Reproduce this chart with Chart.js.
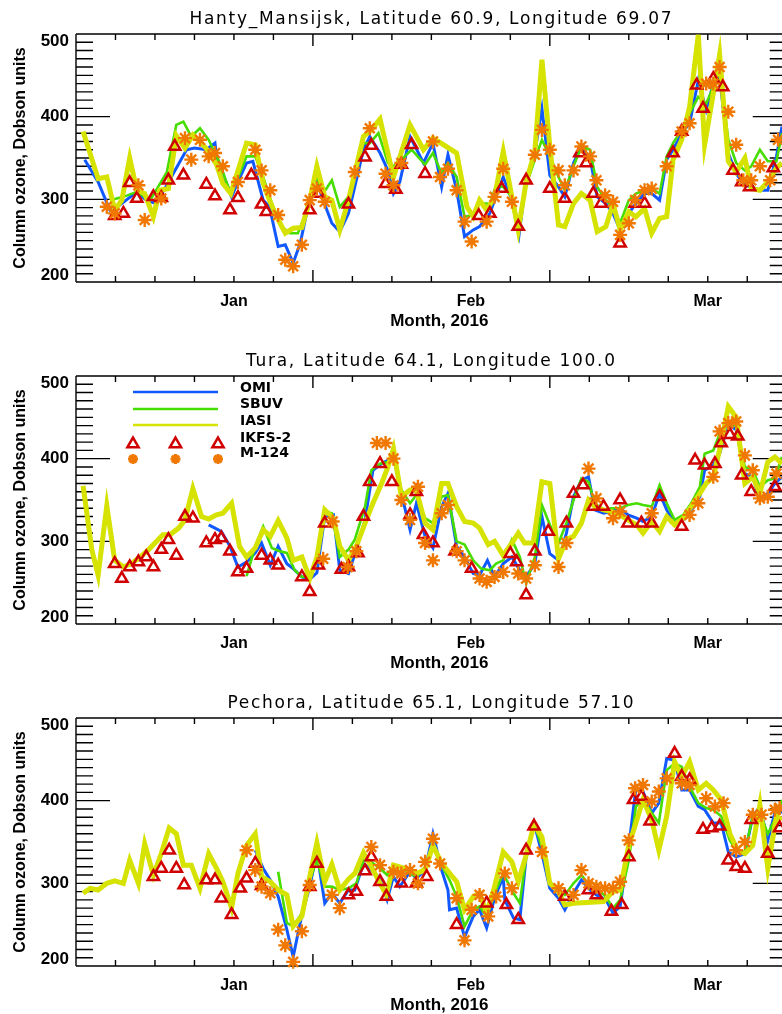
<!DOCTYPE html>
<html lang="en">
<head>
    <meta charset="UTF-8">
    <script src="https://cdn.jsdelivr.net/npm/chart.js"></script>
    <style>
        body{ margin:0; background:#fff; }
        .panel{ position:absolute; left:0; width:782px; height:330px; }
    </style>
    <title>Column ozone 2016</title>
</head>
<body>
    <div class="panel" style="top:0px"><canvas id="c1" width="782" height="330"></canvas></div>
    <div class="panel" style="top:342px"><canvas id="c2" width="782" height="330"></canvas></div>
    <div class="panel" style="top:684px"><canvas id="c3" width="782" height="330"></canvas></div>

    <script>
        // x = day index on the plot (ticks every 5, months 30 apart), y = Dobson units
        const monthLabels = ['Jan', 'Feb', 'Mar'];
        const monthPos = [20, 50, 80];
        const yTickLabels = [200, 300, 400, 500];

        // ---- Hanty_Mansijsk ----
        const hmOmiX = [1.1,2.8,4.3,5,7.7,8.9,10.1,11.5,12.3,14,15,16.5,17.6,17.8,18.6,19.7,20.5,21.6,22.4,23.7,24.5,25.6,26.5,27.5,28.4,29.2,30.3,31.3,32.4,33.4,34.5,35.3,36.4,37.2,38.5,39.5,40.2,41,42.3,44,45.2,46.3,47.1,48.2,49.2,50.3,51.1,52.4,54.1,55.2,56.1,57,58.1,59,60,61.1,61.9,63,64,65.1,66,67.1,68,68.9,70,70.9,72,72.9,73.9,74.8,75.6,76.7,77.7,78.8,79.8,80.7,81.5,82.6,83.6,84.7,85.5,86.6,87.6,88.7,89.4];
        const hmOmiY = [348,321,287,289,309,299,295,317,331,360,362,360,368,352,331,303,321,344,346,299,291,243,245,223,247,283,327,299,271,261,283,315,360,376,356,335,307,321,376,344,368,315,354,311,255,263,267,283,327,299,257,323,356,410,329,315,303,344,364,350,303,295,283,263,283,295,307,307,299,348,360,380,392,444,408,440,448,356,331,317,315,311,311,352,388];
        const hmSbuvX = [4.3,6,7.7,9.4,11.5,12.7,13.6,14.6,15.7,16.8,18.2,19.5,20.3,21.6,22.7,23.7,24.8,26,27.1,28.1,29.4,30.3,31.3,32.4,33.4,34.5,36.4,37.2,38.3,39.5,40.2,41.2,42.5,44.2,45.2,46.3,47.1,48.2,49.2,50.3,51.1,52.4,53.2,54.1,55.2,56.1,57,58.1,59,60,61.1,61.9,63,64,65.1,66,67.1,68,68.9,70,70.9,72,72.9,73.9,74.8,75.6,76.7,77.7,78.8,79.8,80.7,81.5,82.6,83.6,84.7,85.5,86.6,87.6,88.7,89.4];
        const hmSbuvY = [299,303,309,299,333,390,394,376,386,372,344,309,321,352,352,327,295,267,259,259,291,331,307,323,291,303,368,368,380,344,340,348,360,342,356,331,344,327,279,281,295,295,317,315,303,267,317,348,372,352,327,311,340,364,360,315,299,291,271,299,307,311,313,307,352,368,384,404,424,416,436,456,372,344,335,340,360,346,346,380];
        const hmIasiX = [0.9,2.8,3.9,4.9,5.8,6.8,7.7,8.7,9.8,10.6,11.7,12.7,13.8,14.8,15.9,16.8,17.8,18.6,19.6,21.6,22.7,23.7,24.5,25.4,26.5,27.5,28.6,29.6,30.5,31.5,32.4,33.4,34.5,36.4,37.4,38.5,40.2,42.3,44,45.2,48.2,49.5,50.3,51.1,52,53,54.1,55.2,56,57,58.1,59,60,61.1,61.9,63,64,65.1,66,67.1,68,68.9,70,70.9,72,72.9,73.9,74.8,75.6,76.7,77.7,78.8,79.6,80.7,81.5,82.6,83.6,84.7,85.5,86.6,87.6,88.7,89.4];
        const hmIasiY = [382,325,327,287,299,350,311,307,279,311,313,377,362,378,368,358,342,319,307,368,366,320,299,279,259,265,266,299,340,303,299,263,299,376,384,397,327,390,360,374,356,291,279,299,287,303,358,303,263,321,358,469,364,269,267,295,307,299,261,267,295,263,285,279,289,259,277,279,348,372,412,499,366,428,475,346,333,350,313,311,321,338,344];
        const hmIkfsX = [4.9,6,6.8,7.7,9.8,10.8,11.7,12.5,13.6,16.5,17.6,19.5,20.5,22.2,23.5,24.1,29.6,30.7,34.5,36.6,37.4,39.2,40.5,41.2,42.5,44.2,51,52.4,53.9,56,57,60,61.9,63.8,64.6,65.5,66.5,68.9,70.8,72,75.6,76.7,78.6,79.4,80.7,81.9,83.2,84.3,85.3,88.3];
        const hmIkfsY = [280,283,320,301,303,302,323,364,329,318,304,287,302,329,294,285,287,307,294,351,365,319,312,342,366,331,280,283,313,267,323,313,301,356,344,307,295,247,295,295,356,382,438,410,446,436,335,321,315,338];
        const hmM124X = [3.9,4.9,7.9,8.7,10.8,13.8,14.6,15.7,16.8,17.6,18.6,20.5,22.7,23.5,24.6,25.6,26.5,27.5,28.6,29.6,30.5,31.5,35.3,37.2,39.2,40.2,41.2,45.2,46.1,47.1,48.2,49.2,50.1,52,53,54.1,55.2,58.1,59,60,61.1,61.9,63,64,65.1,65.9,67,68,68.9,70,70.8,72,72.9,74.8,76.7,77.7,79.8,80.7,81.5,82.6,83.6,84.5,85.5,86.6,87.9,88.9];
        const hmM124Y = [291,283,317,275,301,374,348,372,352,356,340,321,360,335,311,281,227,219,245,299,313,297,333,386,331,317,344,370,327,337,311,273,249,273,303,337,297,354,384,360,335,317,335,364,352,323,305,297,257,271,299,311,313,340,382,392,440,440,460,406,366,323,323,340,323,372];

        // ---- Tura ----
        const tuOmiX = [16.8,18.4,19.5,20.5,21.6,22.7,23.5,24.6,25.6,26.7,27.5,28.6,29.6,30.5,31.5,32.6,33.4,34.5,35.5,36.6,37.6,38.7,39.5,40.2,41.2,42.3,43.1,44.2,45.2,46.3,47.1,48.2,49.2,50.3,51.1,52.1,53,54.1,55.2,56.2,57,58.1,59,60,61.1,62.1,63,64,64.9,65.7,66.8,67.8,68.9,69.9,71,71.8,72.9,73.9,74.8,75.8,76.9,77.9,79,79.6,80.7,81.5,82.6,83.6,84.7,85.7,86.6,87.6,88.5,89.4];
        const tuOmiY = [320,312,294,269,275,286,298,271,294,273,267,257,254,262,330,332,265,261,290,326,386,394,398,402,358,314,346,306,292,342,358,294,281,261,259,277,257,273,281,265,257,273,330,285,277,310,354,374,378,338,334,336,340,332,328,324,330,358,338,322,326,338,354,386,392,406,441,435,382,378,350,358,370,378];
        const tuSbuvX = [21.6,22.7,23.7,24.8,25.8,26.7,27.7,28.6,29.6,30.5,31.5,32.4,33.4,34.5,35.3,36.6,37.4,38.5,39.5,40.2,41.2,42.3,43.1,44.2,45.2,46.3,47.1,48.2,49.2,50.3,51.3,52.4,53.2,54.1,55.2,56.2,57,58.1,59,60,61.1,62.1,63,64,64.9,65.7,66.8,67.8,68.9,69.9,71,71.8,72.9,73.9,74.8,75.8,76.9,77.9,79,79.6,80.7,81.7,82.6,83.6,84.7,85.7,86.6,87.6,88.5,89.4];
        const tuSbuvY = [258,294,318,292,288,286,265,257,257,277,336,334,281,290,302,342,386,394,396,406,362,346,356,328,322,354,356,300,296,277,267,265,273,277,302,281,249,281,344,320,298,322,350,376,372,346,338,340,340,344,346,344,342,368,346,326,332,346,366,406,410,435,445,439,390,386,366,374,376,402];
        const tuIasiX = [0.9,2,2.8,3.9,4.9,6,7,8.1,9.2,10,11,11.9,13,13.8,14.8,15.9,16.8,17.8,18.6,19.7,20.7,21.6,22.7,23.7,24.6,25.6,26.7,27.5,28.6,29.6,30.5,31.5,32.6,33.4,34.5,35.5,36.6,37.6,38.7,39.5,40.2,41.2,42.3,43.1,44.2,45.2,46.3,47.1,48.2,49.2,50.3,51.1,52.2,53,54.1,55.2,56,56.8,57.9,59,60,61.1,62.1,63,64,64.9,65.7,66.8,67.8,68.9,69.9,71,71.8,72.9,73.9,74.8,75.8,76.9,77.9,79,79.8,80.7,81.7,82.6,83.6,84.7,85.7,86.6,87.6,88.5,89.4];
        const tuIasiY = [367,290,259,343,277,269,273,281,290,298,308,308,316,326,364,330,327,332,334,346,294,281,292,314,306,325,304,277,281,255,281,338,328,294,277,294,322,346,370,390,412,354,362,362,322,314,370,370,342,324,322,316,296,300,283,298,310,298,298,372,370,279,302,306,322,350,342,338,336,332,326,320,310,324,312,330,320,328,342,358,370,378,419,463,450,370,378,358,396,402,394];
        const tuIkfsX = [4.9,5.8,6.8,7.9,8.9,9.8,10.8,11.7,12.7,13.8,14.8,16.5,17.6,18.4,19.5,20.5,21.6,23.5,24.6,25.6,28.6,29.6,30.7,31.5,33.6,34.5,35.7,36.4,37.2,38.5,40,42.3,43.1,44,45.2,48,50.1,55,55.8,57,58.1,59.8,62.1,63,64.2,65.5,66.8,68.9,69.9,71.6,72.9,73.9,76.7,78.4,79.6,80.9,81.7,82.8,83.8,84.3,85.5,88.5];
        const tuIkfsY = [273,255,269,275,281,269,290,302,283,330,328,298,302,304,288,263,267,283,277,271,257,239,271,322,266,269,286,330,372,394,372,332,360,308,298,288,267,285,275,235,288,312,322,358,368,342,342,350,322,322,322,354,318,398,392,394,419,429,427,380,360,366];
        const tuM124X = [31.3,32.5,34.4,35.5,38.1,39.2,40.2,41.2,42.3,43.3,44.2,45.2,46.3,47.1,48.2,49.2,51.1,52,53,54.1,56,57,58.1,61.1,62.1,64.9,65.9,68,68.9,72.9,77.7,78.8,80.7,81.5,82.6,83.6,84.7,85.7,86.6,87.6,88.7];
        const tuM124Y = [279,324,269,288,419,419,400,350,326,366,298,277,334,344,288,277,255,251,257,263,261,255,271,269,298,388,352,328,336,334,332,346,378,433,443,445,404,386,352,354,382];

        // ---- Pechora ----
        const peOmiX = [22.7,23.7,24.6,25.6,26.7,27.5,28.6,29.6,30.5,31.5,32.4,33.4,34.5,35.3,36.4,37.4,38.5,39.4,40.2,41,42.3,43.1,44.2,45.2,46.3,47.1,47.3,48.2,49.2,50.3,51.1,52,53,54.1,54.3,55.4,56.2,57,58,59,60,61.1,61.9,63,64,65.1,65.9,67.1,68,68.9,70,70.9,71.8,72.9,73.8,74.8,75.8,76.7,77.7,78.8,79.6,80.7,81.7,82.6,83.6,84.7,85.7,86.6,87.6,88.7,89.4];
        const peOmiY = [340,318,304,284,244,211,262,296,338,276,288,276,292,292,324,316,306,280,308,296,314,306,316,360,316,292,268,270,235,260,268,246,282,308,280,258,256,332,373,336,294,282,268,288,304,292,286,280,264,272,344,415,411,385,397,451,449,413,413,393,389,373,373,338,332,336,381,393,352,393,385];
        const peSbuvX = [25.6,26.7,27.5,28.6,29.6,30.5,31.5,32.4,33.4,34.5,35.5,36.4,37.4,38.5,39.4,40.2,41,42.3,43.1,44.2,45.2,46.3,47.3,48.2,49.2,50.3,51.1,52,53,54.1,55.4,56.2,57,58,59,60,61.1,61.9,63,64,65.1,65.9,67.1,68,68.9,70,70.9,71.8,72.9,73.8,74.8,75.8,76.7,77.7,78.8,79.8,80.7,81.7,82.8,83.6,84.7,85.7,86.6,87.6,88.7,89.4];
        const peSbuvY = [314,252,248,264,304,328,296,296,292,294,300,328,326,318,310,320,320,312,308,320,344,322,304,284,248,268,272,260,288,312,288,276,332,373,344,302,292,286,300,310,296,294,284,270,280,328,393,401,385,373,437,445,441,417,397,391,389,381,352,340,338,381,385,360,381,401];
        const peIasiX = [0.9,1.8,2.8,3.9,4.9,6,6.8,7.9,8.7,9.8,10.8,11.8,12.7,13.6,14.6,15.7,16.8,17.8,18.6,19.7,20.5,21.6,22.7,23.5,24.6,25.6,26.7,27.5,28.6,29.6,30.5,31.5,32.4,33.4,34.5,35.3,36.4,37.4,38.5,39.3,40.2,41,42.3,43.1,44.2,45.2,46.3,48.2,49.2,50.3,51.1,52,53,54.1,55.2,56,57,58,59,60,61.1,61.9,63,66.8,68,68.9,70,70.9,71.8,72.9,73.8,74.8,75.8,76.7,77.7,78.8,79.8,80.7,81.7,82.8,83.8,84.7,85.7,86.6,87.6,88.7,89.4];
        const peIasiY = [288,294,292,300,303,300,328,300,348,310,336,367,360,322,322,294,336,318,302,270,312,346,360,308,302,292,286,248,260,308,349,302,323,292,305,312,337,320,300,286,322,320,316,312,316,346,324,302,268,284,288,264,296,338,326,302,334,371,356,300,290,274,276,278,290,292,346,373,401,377,340,381,447,429,447,413,421,413,401,360,340,336,346,395,318,381,377];
        const peIkfsX = [9.8,10.8,11.8,12.7,13.7,16.5,17.6,18.4,19.7,20.8,21.6,22.7,23.5,29.6,30.5,34.5,35.5,36.6,37.4,38.5,39.3,41.2,43.1,44.4,48.2,52,54.5,56,57,58,61.9,64.9,65.9,67.8,69.1,70,70.6,71.6,72.7,75.8,76.7,77.7,79.4,80.5,81.5,82.6,83.6,84.7,85.5,87.6,89.1];
        const peIkfsY = [308,318,340,318,298,304,304,282,262,294,306,324,297,296,324,286,290,315,332,302,284,300,300,308,250,276,274,256,340,369,284,292,286,266,274,332,401,405,375,457,429,425,365,367,369,328,320,318,377,336,367];
        const peM124X = [21.6,22.7,23.5,24.6,25.6,26.5,27.5,28.6,29.6,32.4,33.4,37.4,38.5,40.2,41.2,42.3,43.3,44.2,45.2,46.1,48.2,49.2,50.1,51.1,52.2,53.2,54.3,55.2,59,61.1,63,64,64.9,65.9,67,68,68.9,70,70.8,71.8,72.9,73.8,74.8,76.7,77.7,79.8,80.9,82,83.6,84.7,85.7,86.8,88.5,89.1];
        const peM124Y = [340,316,296,288,244,225,205,242,298,286,270,344,322,314,312,316,300,326,354,324,282,231,268,286,260,284,312,294,338,294,286,316,300,296,294,294,302,352,415,419,399,411,427,421,419,403,393,397,340,350,383,383,389,391];

        const seriesNames = ['OMI', 'SBUV', 'IASI', 'IKFS-2', 'M-124'];
        const colOmi = 'rgb(16,88,255)';
        const colSbuv = 'rgb(70,222,0)';
        const colIasi = 'rgb(214,226,0)';
        const colIkfs = 'rgb(208,0,0)';
        const colM124 = 'rgb(240,120,0)';

        function pts(xs, ys){
            return xs.map((x, i) => ({x: x, y: ys[i]}));
        }

        // marker shapes for the legend
        function drawTri(ctx, x, y, r){
            ctx.beginPath();
            for(let k=0;k<3;k++){
                const a = k * 2 * Math.PI / 3;
                const px = x + Math.sin(a) * r, py = y - Math.cos(a) * r;
                if(k===0) ctx.moveTo(px, py); else ctx.lineTo(px, py);
            }
            ctx.closePath();
            ctx.stroke();
        }
        function drawStar(ctx, x, y, r){
            ctx.beginPath();
            for(let k=0;k<4;k++){
                const a = k * Math.PI / 4;
                ctx.moveTo(x - Math.cos(a) * r, y - Math.sin(a) * r);
                ctx.lineTo(x + Math.cos(a) * r, y + Math.sin(a) * r);
            }
            ctx.stroke();
        }

        // IDL style box axes: inward ticks, labels, titles
        const idlAxes = {
            id: 'idlAxes',
            beforeDatasetsDraw(chart){
                const ctx = chart.ctx, xs = chart.scales.x, ys = chart.scales.y, a = chart.chartArea;
                const xRight = xs.getPixelForValue(90);
                ctx.save();
                ctx.strokeStyle = '#000';
                ctx.lineWidth = 1.4;
                ctx.beginPath();
                ctx.moveTo(a.left, a.top); ctx.lineTo(a.left, a.bottom);
                ctx.moveTo(a.left, a.top); ctx.lineTo(xRight, a.top);
                ctx.moveTo(a.left, a.bottom); ctx.lineTo(xRight, a.bottom);
                ctx.moveTo(xRight, a.top); ctx.lineTo(xRight, a.bottom);
                for(let v=200; v<=500; v+=10){
                    const y = ys.getPixelForValue(v);
                    const len = (v % 100 === 0) ? 34 : 17;
                    ctx.moveTo(a.left, y); ctx.lineTo(a.left + len, y);
                    ctx.moveTo(xRight, y); ctx.lineTo(xRight - len, y);
                }
                for(let u=0; u<=90; u+=5){
                    const x = xs.getPixelForValue(u);
                    const len = (u % 30 === 0) ? 12 : 6;
                    ctx.moveTo(x, a.top); ctx.lineTo(x, a.top + len);
                    ctx.moveTo(x, a.bottom); ctx.lineTo(x, a.bottom - len);
                }
                ctx.stroke();
                ctx.restore();
            },
            afterDraw(chart, args, opts){
                const ctx = chart.ctx, xs = chart.scales.x, ys = chart.scales.y, a = chart.chartArea;
                ctx.save();
                ctx.fillStyle = '#000';
                // y tick labels
                ctx.font = 'bold 17px "Liberation Sans"';
                ctx.textAlign = 'right';
                ctx.textBaseline = 'middle';
                yTickLabels.forEach(v => {
                    let y = ys.getPixelForValue(v);
                    y = Math.min(Math.max(y, a.top + 7), a.bottom - 7);
                    ctx.fillText(String(v), a.left - 7, y);
                });
                // month labels
                ctx.textAlign = 'center';
                ctx.textBaseline = 'alphabetic';
                ctx.font = 'bold 16px "Liberation Sans"';
                monthLabels.forEach((m, i) => {
                    ctx.fillText(m, xs.getPixelForValue(monthPos[i]), a.bottom + 24);
                });
                ctx.font = 'bold 17px "Liberation Sans"';
                ctx.fillText('Month, 2016', xs.getPixelForValue(46), a.bottom + 44);
                // title
                ctx.font = '17px "DejaVu Sans"';
                ctx.letterSpacing = '1.7px';
                ctx.fillText(opts.title, xs.getPixelForValue(45), a.top - 10);
                ctx.letterSpacing = '0px';
                // y title
                ctx.save();
                ctx.translate(21, (a.top + a.bottom) / 2);
                ctx.rotate(-Math.PI / 2);
                ctx.textBaseline = 'middle';
                ctx.font = 'bold 16px "Liberation Sans"';
                ctx.fillText('Column ozone, Dobson units', 0, 0);
                ctx.restore();

                // legend (only on Tura)
                if(opts.legend){
                    const x0 = a.left + 57, x1 = a.left + 142, tx = a.left + 164;
                    const lineCols = [colOmi, colSbuv, colIasi];
                    const rowY = [16, 33, 49, 67, 83];
                    const textY = [12, 28, 45, 62, 77];
                    ctx.lineWidth = 2.5;
                    lineCols.forEach((c, i) => {
                        ctx.strokeStyle = c;
                        ctx.beginPath();
                        ctx.moveTo(x0, a.top + rowY[i]); ctx.lineTo(x1, a.top + rowY[i]);
                        ctx.stroke();
                    });
                    const mx = [x0, (x0 + x1) / 2, x1];
                    ctx.strokeStyle = colIkfs; ctx.lineWidth = 2.5;
                    mx.forEach(x => drawTri(ctx, x, a.top + rowY[3] + 1, 6.5));
                    ctx.strokeStyle = colM124; ctx.lineWidth = 3;
                    mx.forEach(x => drawStar(ctx, x, a.top + rowY[4], 5));
                    ctx.fillStyle = '#000';
                    ctx.textAlign = 'left';
                    ctx.textBaseline = 'middle';
                    ctx.font = 'bold 14px "DejaVu Sans"';
                    seriesNames.forEach((n, i) => ctx.fillText(n, tx, a.top + textY[i]));
                }
                ctx.restore();
            }
        };

        function drawPanel(canvasId, title, omi, sbuv, iasi, ikfs, m124, showLegend){
            const data = {
                datasets: [
                    { label:'OMI', data: pts(omi[0], omi[1]), borderColor: colOmi, borderWidth: 3, pointRadius: 0, order: 5 },
                    { label:'SBUV', data: pts(sbuv[0], sbuv[1]), borderColor: colSbuv, borderWidth: 2.6, pointRadius: 0, order: 4 },
                    { label:'IASI', data: pts(iasi[0], iasi[1]), borderColor: colIasi, borderWidth: 5, pointRadius: 0, order: 3 },
                    { label:'IKFS-2', data: pts(ikfs[0], ikfs[1]), showLine: false, pointStyle: 'triangle', pointRadius: 6.5,
                      pointBorderWidth: 2.5, pointBorderColor: colIkfs, pointBackgroundColor: 'rgba(0,0,0,0)', order: 2, clip: false },
                    { label:'M-124', data: pts(m124[0], m124[1]), showLine: false, pointStyle: 'star', pointRadius: 7,
                      pointBorderWidth: 2.4, pointBorderColor: colM124, pointBackgroundColor: colM124, order: 1, clip: false },
                ]
            };
            const config = {
                type: 'line',
                data: data,
                plugins: [idlAxes],
                options: {
                    responsive: false,
                    animation: false,
                    layout: { autoPadding: false, padding: { left: 76, top: 34, right: 0, bottom: 48 } },
                    plugins: {
                        legend: { display: false },
                        tooltip: { enabled: false },
                        idlAxes: { title: title, legend: showLegend }
                    },
                    scales: {
                        x: { type: 'linear', min: 0, max: 89.4, display: false },
                        y: { min: 200, max: 500, display: false }
                    }
                }
            };
            return new Chart(document.getElementById(canvasId).getContext('2d'), config);
        }

        drawPanel('c1', 'Hanty_Mansijsk, Latitude 60.9, Longitude 69.07',
            [hmOmiX, hmOmiY], [hmSbuvX, hmSbuvY], [hmIasiX, hmIasiY], [hmIkfsX, hmIkfsY], [hmM124X, hmM124Y], false);
        drawPanel('c2', 'Tura, Latitude 64.1, Longitude 100.0',
            [tuOmiX, tuOmiY], [tuSbuvX, tuSbuvY], [tuIasiX, tuIasiY], [tuIkfsX, tuIkfsY], [tuM124X, tuM124Y], true);
        drawPanel('c3', 'Pechora, Latitude 65.1, Longitude 57.10',
            [peOmiX, peOmiY], [peSbuvX, peSbuvY], [peIasiX, peIasiY], [peIkfsX, peIkfsY], [peM124X, peM124Y], false);
    </script>
</body>
</html>
